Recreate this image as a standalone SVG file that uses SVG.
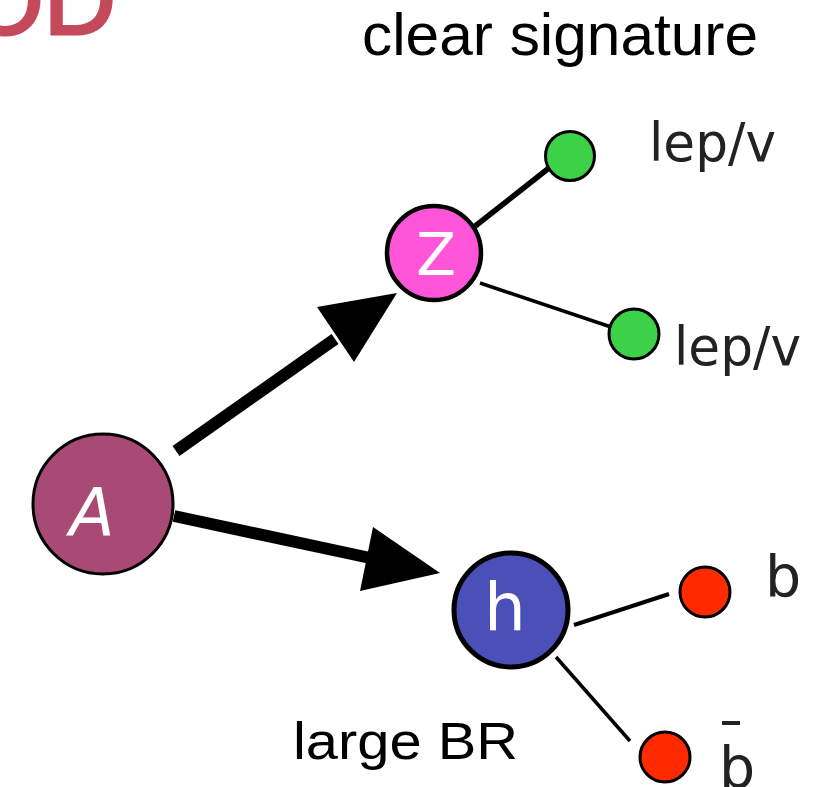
<svg xmlns="http://www.w3.org/2000/svg" width="827" height="787" viewBox="0 0 827 787">
<style>
.lbl{font-family:"Liberation Sans",Arial,sans-serif;fill:#000}
.hand{font-family:"DejaVu Sans","Liberation Sans",sans-serif;fill:#222}
.nl{font-family:"DejaVu Sans","Liberation Sans",sans-serif;fill:#fff;text-anchor:middle}
.ln{stroke:#000;fill:none;stroke-linecap:butt}
.sm{stroke:#000;stroke-width:3}
</style>
<rect width="827" height="787" fill="#fff"/>
<text x="-34" y="34" font-family="Liberation Sans,Arial,sans-serif" font-size="100" fill="#c4495a" stroke="#c4495a" stroke-width="3" textLength="150" lengthAdjust="spacingAndGlyphs">OD</text>
<text class="lbl" x="362" y="55" font-size="59" textLength="396" lengthAdjust="spacingAndGlyphs">clear signature</text>
<text class="lbl" x="293" y="759" font-size="52" textLength="225" lengthAdjust="spacingAndGlyphs">large BR</text>
<g id="connectors">
<line class="ln" x1="176" y1="451" x2="335" y2="339" stroke-width="12"/>
<polygon points="397,293 317,307 354,362" fill="#000"/>
<line class="ln" x1="174" y1="516" x2="375" y2="559" stroke-width="12"/>
<polygon points="440,573 373,527 360,591" fill="#000"/>
<line class="ln" x1="474" y1="227" x2="549" y2="168" stroke-width="5.5"/>
<line class="ln" x1="480" y1="283" x2="611" y2="327" stroke-width="3.5"/>
<line class="ln" x1="574" y1="625" x2="669" y2="594" stroke-width="4"/>
<line class="ln" x1="556" y1="657" x2="630" y2="741" stroke-width="3.5"/>
</g>
<g id="A">
<circle cx="103" cy="504" r="70" fill="#a84a75" stroke="#000" stroke-width="3"/>
<text class="nl" x="92" y="535" font-size="66" font-style="italic">A</text>
</g>
<g id="Z">
<circle cx="434" cy="253" r="47" fill="#ff55d8" stroke="#000" stroke-width="4.5"/>
<text class="nl" x="436" y="275" font-size="58">Z</text>
</g>
<g id="h">
<circle cx="511" cy="610" r="57" fill="#4a50b8" stroke="#000" stroke-width="5"/>
<text class="nl" x="505" y="630" font-size="66">h</text>
</g>
<g id="lep1">
<circle cx="570" cy="156" r="24.5" fill="#3cd146" class="sm"/>
<text class="hand" x="649" y="161" font-size="54" textLength="127" lengthAdjust="spacingAndGlyphs">lep/v</text>
</g>
<g id="lep2">
<circle cx="634" cy="334" r="25" fill="#3cd146" class="sm"/>
<text class="hand" x="674" y="365" font-size="54" textLength="127" lengthAdjust="spacingAndGlyphs">lep/v</text>
</g>
<g id="b">
<circle cx="705" cy="592" r="25" fill="#ff2a00" class="sm"/>
<text class="hand" x="765" y="596" font-size="57">b</text>
</g>
<g id="bbar">
<circle cx="665" cy="757" r="25" fill="#ff2a00" class="sm"/>
<text class="hand" x="719" y="787" font-size="57">b</text>
<line x1="722" y1="723" x2="740" y2="723" stroke="#222" stroke-width="4"/>
</g>
</svg>
